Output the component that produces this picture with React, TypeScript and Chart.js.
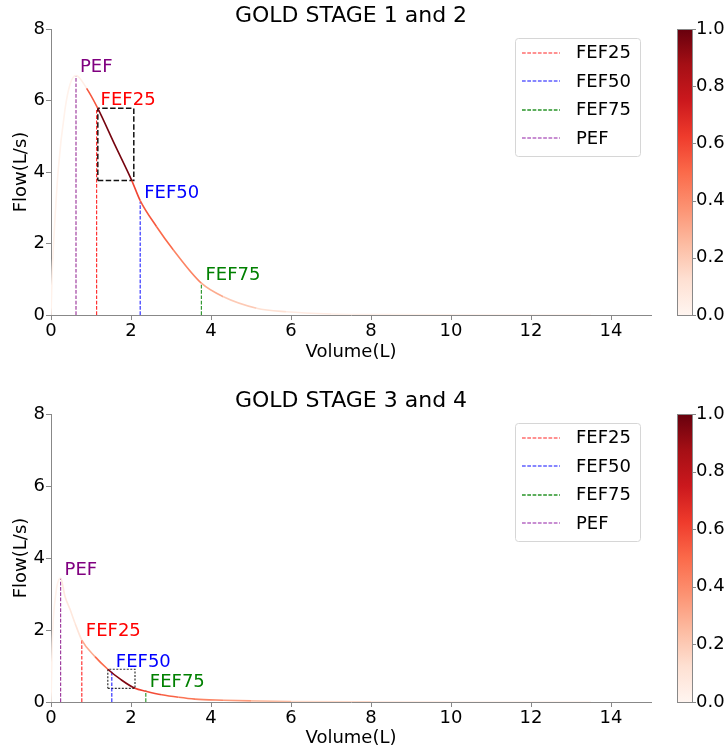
import React, { useEffect, useRef } from 'react';
import { Chart, registerables } from 'chart.js';

Chart.register(...registerables);
Chart.defaults.font.family = '"DejaVu Sans", sans-serif';
Chart.defaults.color = '#000';

// ---------- data ----------
const xTicks = [0, 2, 4, 6, 8, 10, 12, 14];
const yTicks = [0, 2, 4, 6, 8];
const cbTicks = [0, 0.2, 0.4, 0.6, 0.8, 1.0];
const titles = ['GOLD STAGE 1 and 2', 'GOLD STAGE 3 and 4'];
const markerNames = ['FEF25', 'FEF50', 'FEF75', 'PEF'];

// GOLD 1-2 curve
const vol12 = [0, 0.03, 0.06, 0.18, 0.35, 0.475, 0.625, 0.89, 1.17, 1.6, 2.02, 2.23, 2.64, 3.06, 3.76, 4.31, 5.14, 5.89, 7.0, 8.5, 10, 13.5];
const flow12 = [0, 1.2, 1.9, 4.05, 5.75, 6.45, 6.7, 6.34, 5.78, 4.75, 3.76, 3.2, 2.47, 1.82, 0.89, 0.51, 0.19, 0.09, 0.03, 0.01, 0.004, 0];
const shade12 = [0.02, 0.02, 0.02, 0.02, 0.02, 0.02, 0.04, 0.55, 0.97, 0.97, 0.6, 0.55, 0.5, 0.42, 0.3, 0.2, 0.12, 0.06, 0.03, 0.02, 0.01, 0.01];
const markerX12 = [1.14, 2.23, 3.76, 0.625];
const markerY12 = [5.78, 3.17, 0.89, 6.7];
const boxX12 = [1.17, 2.07];
const boxY12 = [3.76, 5.78];

// GOLD 3-4 curve
const vol34 = [0, 0.03, 0.12, 0.24, 0.35, 0.48, 0.6, 0.77, 1.1, 1.42, 1.75, 2.1, 2.37, 2.77, 3.19, 3.6, 4.3, 5.0, 6.0, 8.0, 10.0, 13.5];
const flow34 = [0, 1.6, 3.0, 3.44, 2.93, 2.56, 2.19, 1.72, 1.26, 0.91, 0.62, 0.38, 0.3, 0.2, 0.13, 0.08, 0.05, 0.03, 0.015, 0.005, 0.002, 0];
const shade34 = [0.02, 0.02, 0.02, 0.08, 0.08, 0.08, 0.1, 0.3, 0.5, 0.95, 0.95, 0.62, 0.58, 0.52, 0.47, 0.42, 0.35, 0.25, 0.15, 0.06, 0.02, 0.02];
const markerX34 = [0.77, 1.52, 2.37, 0.24];
const markerY34 = [1.72, 0.86, 0.32, 3.44];
const boxX34 = [1.42, 2.1];
const boxY34 = [0.38, 0.91];

const labelOffset = 0.1;

// ---------- style ----------
const REDS = ['#fff5f0', '#fee0d2', '#fcbba1', '#fc9272', '#fb6a4a', '#ef3b2c', '#cb181d', '#a50f15', '#67000d'];
const LINE_COLORS = ['rgba(255,0,0,0.8)', 'rgba(0,0,255,0.8)', 'rgba(0,128,0,0.8)', 'rgba(128,0,128,0.75)'];
const LEGEND_COLORS = ['rgba(255,60,60,0.75)', 'rgba(40,40,255,0.75)', 'rgba(0,128,0,0.85)', 'rgba(150,40,170,0.7)'];
const TEXT_COLORS = ['#ff0000', '#0000ff', '#008000', '#800080'];
const AXIS_COLOR = '#888';
const FONT = '"DejaVu Sans", sans-serif';

function hexToRgb(h: string) {
  const n = parseInt(h.slice(1), 16);
  return [(n >> 16) & 255, (n >> 8) & 255, n & 255];
}
function reds(t: number) {
  const v = Math.max(0, Math.min(1, t)) * (REDS.length - 1);
  const i = Math.min(REDS.length - 2, Math.floor(v));
  const f = v - i;
  const a = hexToRgb(REDS[i]);
  const b = hexToRgb(REDS[i + 1]);
  const c = a.map((x, k) => Math.round(x + (b[k] - x) * f));
  return `rgb(${c[0]},${c[1]},${c[2]})`;
}

type Panel = {
  title: string;
  vol: number[];
  flow: number[];
  shade: number[];
  mx: number[];
  my: number[];
  bx: number[];
  by: number[];
  titlePad: { top: number; bottom: number };
  xAxisH: number;
  xTitlePadBottom: number;
  boxDash: number[];
  boxWidth: number;
  boxColor: string;
};

const panels: Panel[] = [
  {
    title: titles[0], vol: vol12, flow: flow12, shade: shade12,
    mx: markerX12, my: markerY12, bx: boxX12, by: boxY12,
    titlePad: { top: 2.6, bottom: 0 }, xAxisH: 60, xTitlePadBottom: 12,
    boxDash: [5.5, 2.4], boxWidth: 1.5, boxColor: '#111',
  },
  {
    title: titles[1], vol: vol34, flow: flow34, shade: shade34,
    mx: markerX34, my: markerY34, bx: boxX34, by: boxY34,
    titlePad: { top: 12.6, bottom: 0 }, xAxisH: 48, xTitlePadBottom: 1.2,
    boxDash: [2, 1.5], boxWidth: 1.2, boxColor: '#333',
  },
];

function makeConfig(p: Panel): any {
  const curve = p.vol.map((x, i) => ({ x, y: p.flow[i] }));
  const datasets: any[] = [
    {
      label: 'curve',
      data: curve,
      borderWidth: 1.6,
      pointRadius: 0,
      cubicInterpolationMode: 'monotone',
      borderColor: reds(0.5),
      segment: { borderColor: (ctx: any) => reds(p.shade[ctx.p0DataIndex]) },
    },
  ];
  markerNames.forEach((name, i) => {
    datasets.push({
      label: name,
      data: [{ x: p.mx[i], y: 0 }, { x: p.mx[i], y: p.my[i] }],
      borderColor: LINE_COLORS[i],
      borderWidth: 1.2,
      borderDash: [3.7, 1.6],
      pointRadius: 0,
      tension: 0,
    });
  });
  datasets.push({
    label: 'box',
    data: [
      { x: p.bx[0], y: p.by[0] },
      { x: p.bx[1], y: p.by[0] },
      { x: p.bx[1], y: p.by[1] },
      { x: p.bx[0], y: p.by[1] },
      { x: p.bx[0], y: p.by[0] },
    ],
    borderColor: p.boxColor,
    borderWidth: p.boxWidth,
    borderDash: p.boxDash,
    pointRadius: 0,
    tension: 0,
  });

  const overlay = {
    id: 'overlay',
    afterDatasetsDraw(chart: any) {
      const ctx = chart.ctx;
      const xs = chart.scales.x;
      const ys = chart.scales.y;
      ctx.save();
      ctx.font = `18px ${FONT}`;
      ctx.textAlign = 'left';
      ctx.textBaseline = 'alphabetic';
      markerNames.forEach((name, i) => {
        ctx.fillStyle = TEXT_COLORS[i];
        ctx.fillText(name, xs.getPixelForValue(p.mx[i] + labelOffset), ys.getPixelForValue(p.my[i] + labelOffset));
      });
      ctx.restore();
    },
    afterDraw(chart: any) {
      const ctx = chart.ctx;
      const area = chart.chartArea;
      // legend
      ctx.save();
      const W = 125, H = 118;
      const L = Math.round(area.right - 11 - W);
      const T = Math.round(area.top + 9);
      ctx.beginPath();
      if (ctx.roundRect) ctx.roundRect(L + 0.5, T + 0.5, W, H, 3);
      else ctx.rect(L + 0.5, T + 0.5, W, H);
      ctx.fillStyle = 'rgba(255,255,255,0.8)';
      ctx.fill();
      ctx.strokeStyle = '#d6d6d6';
      ctx.lineWidth = 1;
      ctx.stroke();
      ctx.font = `18px ${FONT}`;
      ctx.textAlign = 'left';
      ctx.textBaseline = 'middle';
      markerNames.forEach((name, i) => {
        const y = T + 14.7 + i * 28.4;
        ctx.beginPath();
        ctx.setLineDash([3.7, 1.6]);
        ctx.strokeStyle = LEGEND_COLORS[i];
        ctx.lineWidth = 1.5;
        ctx.moveTo(L + 7, Math.round(y));
        ctx.lineTo(L + 45, Math.round(y));
        ctx.stroke();
        ctx.setLineDash([]);
        ctx.fillStyle = '#000';
        ctx.fillText(name, L + 61, y + 1);
      });
      ctx.restore();

      // colorbar
      const cb = chart.scales.cb;
      const x0 = Math.round(area.right + 26);
      const cw = 15;
      ctx.save();
      const g = ctx.createLinearGradient(0, area.bottom, 0, area.top);
      REDS.forEach((c, i) => g.addColorStop(i / (REDS.length - 1), c));
      ctx.fillStyle = g;
      ctx.fillRect(x0, area.top, cw, area.bottom - area.top);
      ctx.strokeStyle = AXIS_COLOR;
      ctx.lineWidth = 1;
      ctx.strokeRect(x0 + 0.5, Math.round(area.top) + 0.5, cw, Math.round(area.bottom - area.top));
      cbTicks.forEach((v) => {
        const y = Math.round(cb.getPixelForValue(v)) + 0.5;
        ctx.beginPath();
        ctx.moveTo(x0 + cw, y);
        ctx.lineTo(x0 + cw + 4, y);
        ctx.stroke();
      });
      ctx.restore();
    },
  };

  return {
    type: 'line',
    data: { datasets },
    plugins: [overlay],
    options: {
      animation: false,
      responsive: false,
      devicePixelRatio: 1,
      layout: { padding: 0 },
      plugins: {
        legend: { display: false },
        tooltip: { enabled: false },
        title: {
          display: true,
          text: p.title,
          fullSize: false,
          color: '#000',
          font: { size: 22, weight: 'normal', lineHeight: 1.2 },
          padding: p.titlePad,
        },
      },
      scales: {
        x: {
          type: 'linear',
          min: 0,
          max: 15,
          afterBuildTicks: (s: any) => { s.ticks = xTicks.map((v) => ({ value: v })); },
          afterFit: (s: any) => { s.height = p.xAxisH; },
          ticks: { font: { size: 18 }, color: '#000', padding: 1, maxRotation: 0 },
          grid: { drawOnChartArea: false, tickLength: 5, color: AXIS_COLOR },
          border: { color: AXIS_COLOR },
          title: {
            display: true,
            text: 'Volume(L)',
            color: '#000',
            font: { size: 18, lineHeight: 1.2 },
            padding: { top: 0, bottom: p.xTitlePadBottom },
          },
        },
        y: {
          type: 'linear',
          position: 'left',
          min: 0,
          max: 8,
          afterBuildTicks: (s: any) => { s.ticks = yTicks.map((v) => ({ value: v })); },
          afterFit: (s: any) => { s.width = 51; },
          ticks: { font: { size: 18 }, color: '#000', padding: 1 },
          grid: { drawOnChartArea: false, tickLength: 5, color: AXIS_COLOR },
          border: { color: AXIS_COLOR },
          title: {
            display: true,
            text: 'Flow(L/s)',
            color: '#000',
            font: { size: 18, lineHeight: 1.2 },
            padding: { top: 11, bottom: 0 },
          },
        },
        cb: {
          type: 'linear',
          position: 'right',
          min: 0,
          max: 1,
          afterBuildTicks: (s: any) => { s.ticks = cbTicks.map((v) => ({ value: v })); },
          afterFit: (s: any) => { s.width = 76; },
          ticks: { font: { size: 18 }, color: '#000', padding: 1, callback: (v: any) => Number(v).toFixed(1) },
          grid: { display: false, drawTicks: true, tickLength: 44 },
          border: { display: false },
        },
      },
    },
  };
}

function PanelChart({ panel }: { panel: Panel }) {
  const ref = useRef<HTMLCanvasElement | null>(null);
  useEffect(() => {
    if (!ref.current) return;
    const chart = new Chart(ref.current, makeConfig(panel));
    return () => chart.destroy();
  }, [panel]);
  return <canvas ref={ref} width={727} height={375} style={{ display: 'block', width: 727, height: 375 }} />;
}

export default function App() {
  return (
    <div style={{ position: 'absolute', left: 0, top: 0, width: 727, height: 750, background: '#fff' }}>
      {panels.map((p, i) => (
        <PanelChart key={i} panel={p} />
      ))}
    </div>
  );
}
